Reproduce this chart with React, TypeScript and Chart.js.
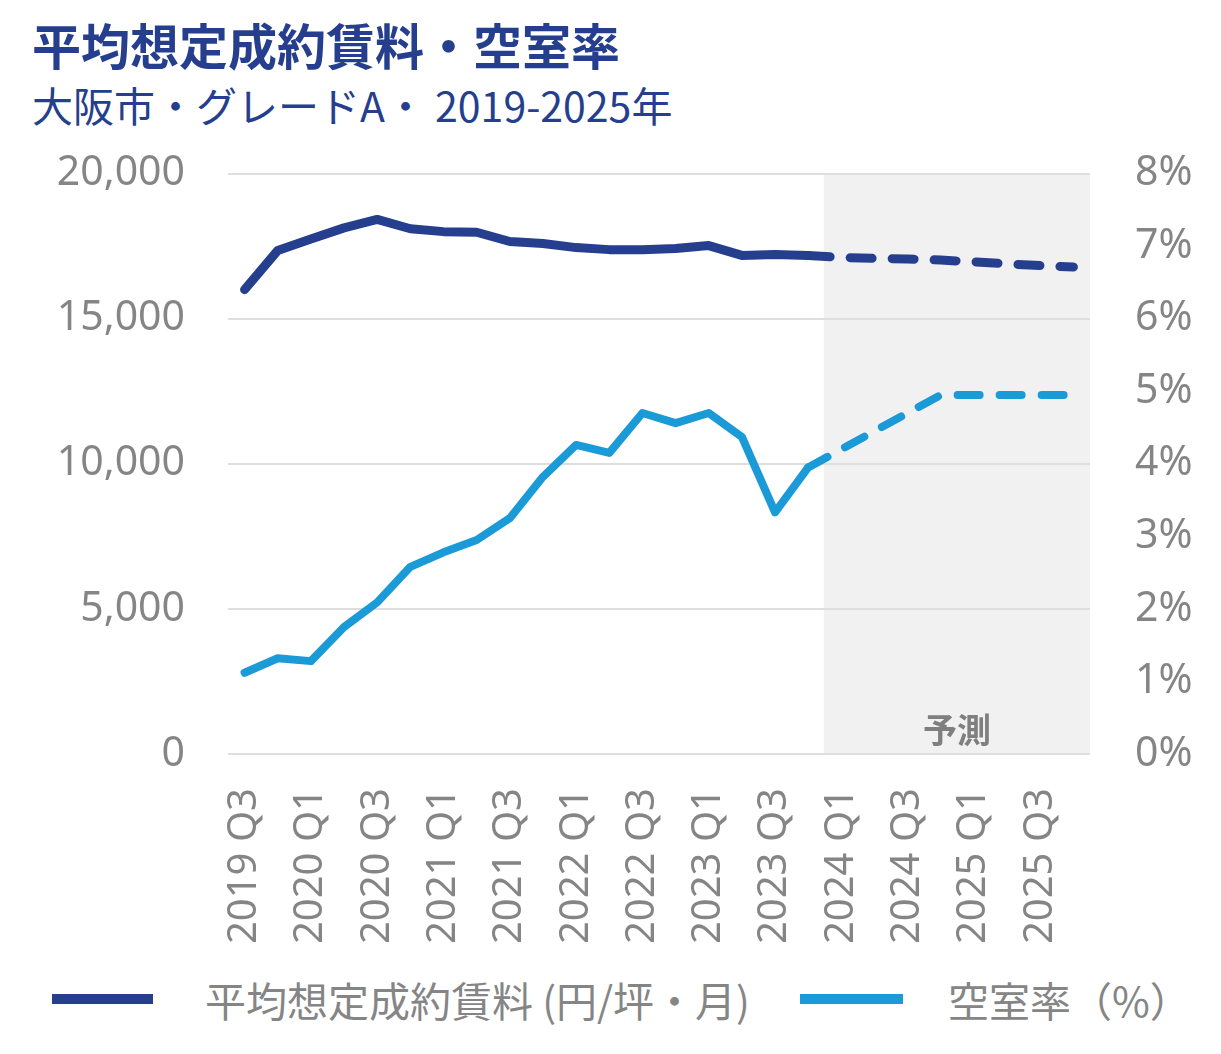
import React from "react";
import Chart from "chart.js/auto";

// quarters on the x axis (2019 Q3 .. 2025 Q4)
const quarters = [
    "2019 Q3", "2019 Q4",
    "2020 Q1", "2020 Q2", "2020 Q3", "2020 Q4",
    "2021 Q1", "2021 Q2", "2021 Q3", "2021 Q4",
    "2022 Q1", "2022 Q2", "2022 Q3", "2022 Q4",
    "2023 Q1", "2023 Q2", "2023 Q3", "2023 Q4",
    "2024 Q1", "2024 Q2", "2024 Q3", "2024 Q4",
    "2025 Q1", "2025 Q2", "2025 Q3", "2025 Q4",
];

// 平均想定成約賃料 (円/坪・月)
const rent = [
    16000, 17350, 17750, 18130, 18420, 18100, 18000, 17980,
    17660, 17590, 17450, 17380, 17380, 17420, 17520, 17180,
    17210, 17180, 17110, 17080, 17060, 17020, 16960, 16890,
    16830, 16780,
];

// 空室率 (%)
const vacancy = [
    1.12, 1.32, 1.28, 1.75, 2.09, 2.58, 2.78, 2.95,
    3.25, 3.82, 4.26, 4.15, 4.70, 4.56, 4.70, 4.37,
    3.33, 3.95, 4.20, 4.45, 4.70, 4.95, 4.95, 4.95,
    4.95, 4.95,
];

// index where the forecast (dashed) part begins
const forecastFrom = 17;

const rentTicks = [0, 5000, 10000, 15000, 20000];
const vacancyTicks = [0, 1, 2, 3, 4, 5, 6, 7, 8];

const NAVY = "#253f8e";
const SKY = "#1a9bd7";
const GREY = "#858585";
const FONT = "'Noto Sans', 'Noto Sans CJK JP', sans-serif";
const JP = "'Noto Sans CJK JP', 'Noto Sans', sans-serif";

const forecastShade = {
    id: "forecastShade",
    beforeDraw(chart: any) {
        const { ctx, chartArea, scales } = chart;
        const x = scales.x;
        const x0 = (x.getPixelForValue(forecastFrom) + x.getPixelForValue(forecastFrom + 1)) / 2 - 1;
        ctx.save();
        ctx.fillStyle = "#f1f1f1";
        ctx.fillRect(x0, chartArea.top, chartArea.right - x0, chartArea.bottom - chartArea.top - 1);
        ctx.fillStyle = "#7f7f7f";
        ctx.font = "bold 34px " + JP;
        ctx.textAlign = "center";
        ctx.textBaseline = "middle";
        ctx.fillText("予測", (x0 + chartArea.right) / 2, chartArea.bottom - 24);
        ctx.restore();
    },
};

function RentChart() {
    const canvasRef = React.useRef<HTMLCanvasElement | null>(null);

    React.useEffect(() => {
        if (!canvasRef.current) return;
        const dash = (ctx: any) => (ctx.p0DataIndex >= forecastFrom ? [22, 20] : undefined);
        const chart = new Chart(canvasRef.current, {
            type: "line",
            data: {
                labels: quarters,
                datasets: [
                    {
                        label: "平均想定成約賃料 (円/坪・月)",
                        data: rent,
                        yAxisID: "y",
                        borderColor: NAVY,
                        backgroundColor: NAVY,
                        borderWidth: 9,
                        pointRadius: 0,
                        borderCapStyle: "round",
                        borderJoinStyle: "round",
                        segment: { borderDash: dash },
                    },
                    {
                        label: "空室率（%）",
                        data: vacancy,
                        yAxisID: "y1",
                        borderColor: SKY,
                        backgroundColor: SKY,
                        borderWidth: 8,
                        pointRadius: 0,
                        borderCapStyle: "round",
                        borderJoinStyle: "round",
                        segment: { borderDash: dash },
                    },
                ],
            },
            options: {
                animation: false,
                responsive: true,
                maintainAspectRatio: false,
                layout: { padding: 0 },
                plugins: {
                    legend: { display: false },
                    tooltip: { enabled: false },
                },
                scales: {
                    x: {
                        offset: true,
                        grid: { display: false },
                        border: { display: false },
                        ticks: {
                            autoSkip: false,
                            maxRotation: 90,
                            minRotation: 90,
                            padding: 26,
                            color: GREY,
                            font: { family: FONT, size: 40 },
                            callback: (_v: any, i: number) => (i % 2 === 0 ? quarters[i] : ""),
                        },
                        afterFit: (s: any) => { s.height = 205; },
                    },
                    y: {
                        position: "left",
                        min: rentTicks[0],
                        max: rentTicks[rentTicks.length - 1],
                        afterBuildTicks: (s: any) => { s.ticks = rentTicks.map((v) => ({ value: v })); },
                        grid: { color: "#dedede", lineWidth: 2, drawTicks: false },
                        border: { display: false },
                        ticks: {
                            padding: 43,
                            color: GREY,
                            font: { family: FONT, size: 41 },
                            callback: (v: any) => Number(v).toLocaleString("en-US"),
                        },
                        afterFit: (s: any) => { s.width = 220; },
                    },
                    y1: {
                        position: "right",
                        min: vacancyTicks[0],
                        max: vacancyTicks[vacancyTicks.length - 1],
                        afterBuildTicks: (s: any) => { s.ticks = vacancyTicks.map((v) => ({ value: v })); },
                        grid: { display: false, drawTicks: false },
                        border: { display: false },
                        ticks: {
                            padding: 45,
                            color: GREY,
                            font: { family: FONT, size: 41 },
                            callback: (v: any) => v + "%",
                        },
                        afterFit: (s: any) => { s.width = 123; },
                    },
                },
            } as any,
            plugins: [forecastShade],
        });
        return () => chart.destroy();
    }, []);

    return (
        <div style={{ position: "absolute", left: 0, top: 96, width: 1205, height: 855 }}>
            <canvas ref={canvasRef}></canvas>
        </div>
    );
}

export default function App() {
    return (
        <div style={{ position: "relative", width: 1205, height: 1030, fontFamily: JP }}>
            <div style={{ position: "absolute", left: 24, top: 11, fontSize: 49, lineHeight: "49px", fontWeight: 700, color: NAVY, whiteSpace: "nowrap" }}>
                平均想定成約賃料・空室率
            </div>
            <div style={{ position: "absolute", left: 24, top: 76, fontSize: 41, lineHeight: "41px", color: NAVY, whiteSpace: "nowrap" }}>
                大阪市・グレードA・ 2019-2025年
            </div>
            <RentChart />
            <div style={{ position: "absolute", left: 44, top: 986, width: 101, height: 10, background: NAVY }}></div>
            <div style={{ position: "absolute", left: 197, top: 971, fontSize: 41, lineHeight: "41px", color: GREY, whiteSpace: "nowrap" }}>
                平均想定成約賃料 (円/坪・月)
            </div>
            <div style={{ position: "absolute", left: 792, top: 986, width: 103, height: 10, background: SKY }}></div>
            <div style={{ position: "absolute", left: 940, top: 971, fontSize: 41, lineHeight: "41px", color: GREY, whiteSpace: "nowrap" }}>
                空室率（%）
            </div>
        </div>
    );
}
